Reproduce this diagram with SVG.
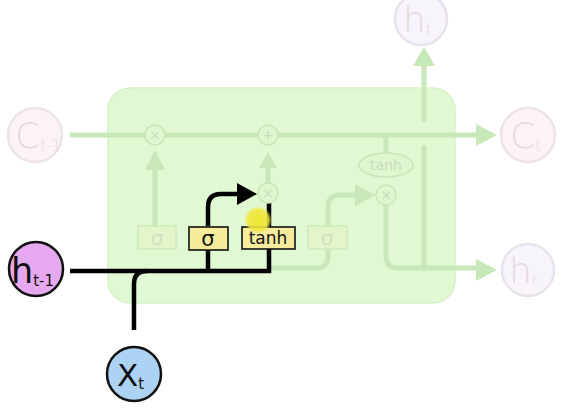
<svg xmlns="http://www.w3.org/2000/svg" width="567" height="419" viewBox="0 0 567 419">
<defs>
<style>
.fl{fill:none;stroke:#c9e8b9;stroke-width:5}
.fa{fill:#c9e8b9}
.op{fill:#def7cf;stroke:#c9e5b9;stroke-width:1.5}
.opt{font-family:"DejaVu Sans",sans-serif;font-size:14px;fill:#c9dcc0;text-anchor:middle}
.fbox{fill:#e4f5c9;stroke:#cfe8bc;stroke-width:1.5}
.fbt{font-family:"DejaVu Sans",sans-serif;font-size:20px;fill:#cfe3c2;text-anchor:middle}
.ybox{fill:#f6ec9c;stroke:#111;stroke-width:1.6}
.ybt{font-family:"DejaVu Sans",sans-serif;font-size:17px;fill:#111;text-anchor:middle}
.sig{font-size:21px}
.bl{fill:none;stroke:#000;stroke-width:4.5}
.fc{fill:#fbf3f5;stroke:#ece4e8;stroke-width:2.5}
.fct{font-family:"DejaVu Sans",sans-serif;font-weight:200;fill:#e3dadf}
.nt{font-family:"DejaVu Sans",sans-serif;fill:#111}
.big{font-size:36px}
.sub{font-size:15px}
</style>
<radialGradient id="hl">
<stop offset="0" stop-color="#efe62a" stop-opacity="0.95"/>
<stop offset="0.75" stop-color="#f0e83a" stop-opacity="0.85"/>
<stop offset="1" stop-color="#f2ea60" stop-opacity="0"/>
</radialGradient>
</defs>
<rect width="567" height="419" fill="#fff"/>
<g id="cell">
<rect x="108" y="88" width="347" height="215" rx="22" fill="#e0f9d2" stroke="#d6f2c8" stroke-width="1.5"/>
</g>
<g id="connectors">
<path class="fl" d="M70,135 H478"/>
<polygon class="fa" points="476,124 497,135 476,146"/>
<path class="fl" d="M424,122 V64"/>
<polygon class="fa" points="413,66 424,47 435,66"/>
<path class="fl" d="M155,226 V168"/>
<polygon class="fa" points="145,170 155,150 165,170"/>
<path class="fl" d="M268,183 V168"/>
<polygon class="fa" points="259,168 268,152 277,168"/>
<path class="fl" d="M271,268 H316 Q328,268 328,256 V249"/>
<path class="fl" d="M328,226 V207 Q328,195 340,195 H358"/>
<polygon class="fa" points="355,184 376,195 355,206"/>
<path class="fl" d="M386,135 V153"/>
<path class="fl" d="M386,205 V256 Q386,268 398,268 H478"/>
<path class="fl" d="M424,145 V268"/>
<polygon class="fa" points="476,259 497,270 476,281"/>
<path class="bl" d="M70,271 H269 V249"/>
<path class="bl" d="M208,271 V250"/>
<path class="bl" d="M208,226 V207 Q208,194 221,194 H240"/>
<polygon fill="#000" points="237,183 257,194 237,205"/>
<path class="bl" d="M269,227 V203"/>
<path class="bl" d="M134,330 V284 Q134,271 147,271"/>
</g>
<g id="mul1"><circle class="op" cx="155" cy="135" r="10"/><text class="opt" x="155" y="140">×</text></g>
<g id="add"><circle class="op" cx="268" cy="135" r="10"/><text class="opt" x="268" y="140">+</text></g>
<g id="mul2"><circle class="op" cx="268" cy="193" r="10"/><text class="opt" x="268" y="198">×</text></g>
<g id="mul3"><circle class="op" cx="386" cy="195" r="10"/><text class="opt" x="386" y="200">×</text></g>
<g id="tanh2"><ellipse cx="386" cy="165" rx="27" ry="12" fill="#def7cf" stroke="#c9e5b9" stroke-width="1.5"/><text class="opt" x="386" y="170">tanh</text></g>
<g id="sig1"><rect class="fbox" x="138" y="226" width="38" height="23"/><text class="fbt" x="157" y="245">σ</text></g>
<g id="sig3"><rect class="fbox" x="308" y="226" width="39" height="23"/><text class="fbt" x="327" y="245">σ</text></g>
<g id="sig2"><rect class="ybox" x="189" y="227" width="39" height="23"/><text class="ybt sig" x="208" y="246">σ</text></g>
<g id="tanh1"><rect class="ybox" x="242" y="227" width="53" height="22"/><text class="ybt" x="268" y="244">tanh</text></g>
<g id="highlight"><circle cx="258" cy="220" r="14" fill="url(#hl)"/></g>
<g id="ct1"><circle class="fc" cx="35" cy="135" r="27"/><text class="fct" x="15" y="148"><tspan class="big">C</tspan><tspan class="sub" dy="3">t-1</tspan></text></g>
<g id="ct"><circle class="fc" cx="528" cy="135" r="27"/><text class="fct" x="510" y="148"><tspan class="big">C</tspan><tspan class="sub" dy="3">t</tspan></text></g>
<g id="ht_top"><circle cx="421" cy="19" r="26" fill="#f8f4fb" stroke="#e8e2ec" stroke-width="2.5"/><text class="fct" x="403" y="32"><tspan class="big">h</tspan><tspan class="sub" dy="3">t</tspan></text></g>
<g id="ht_right"><circle cx="528" cy="270" r="26" fill="#f8f4fb" stroke="#e8e2ec" stroke-width="2.5"/><text class="fct" x="509" y="283"><tspan class="big">h</tspan><tspan class="sub" dy="3">t</tspan></text></g>
<g id="ht1"><circle cx="36" cy="269" r="27" fill="#e6a8ef" stroke="#111" stroke-width="2.5"/><text class="nt" x="11" y="283"><tspan font-size="35">h</tspan><tspan font-size="15" dy="3">t-1</tspan></text></g>
<g id="xt"><circle cx="134" cy="374" r="27" fill="#acd3f3" stroke="#111" stroke-width="2.5"/><text class="nt" x="117" y="386"><tspan font-size="31">X</tspan><tspan font-size="15" dy="3">t</tspan></text></g>
</svg>
